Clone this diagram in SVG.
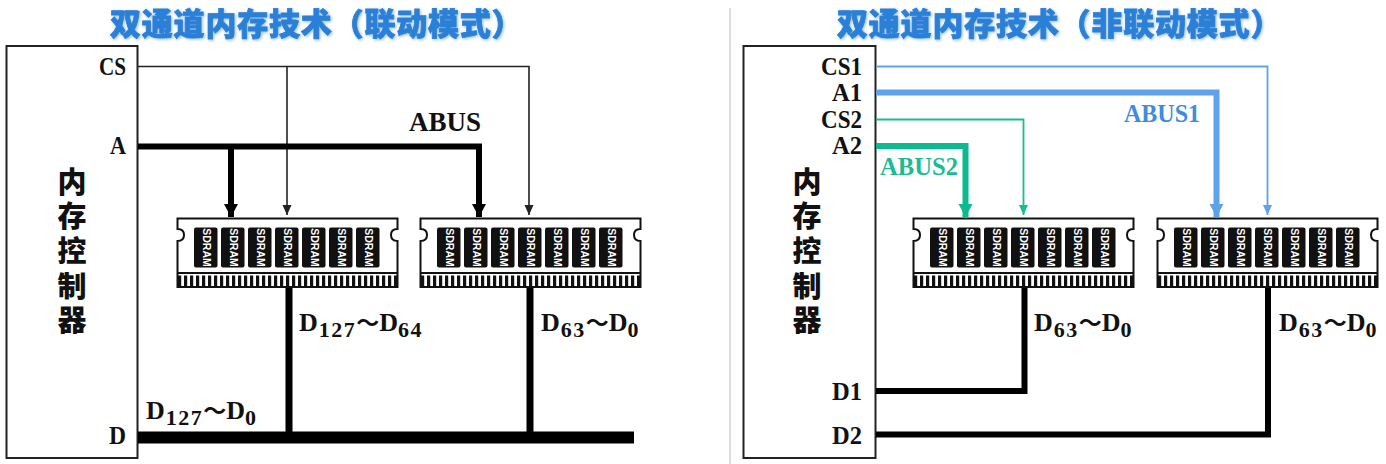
<svg xmlns="http://www.w3.org/2000/svg" xmlns:xlink="http://www.w3.org/1999/xlink" width="1386" height="464" viewBox="0 0 1386 464">
<style>
.title{font:900 31px "Noto Sans CJK SC",sans-serif;fill:#2a7fd6;stroke:#2a7fd6;stroke-width:.8;letter-spacing:.8px;filter:url(#glow)}
.lab{font:bold 26px "Liberation Serif",serif;fill:#111}
.cn{font:900 29px "Noto Sans CJK SC",sans-serif;fill:#111;text-anchor:middle}
.box{fill:#fff;stroke:#222;stroke-width:2}
.sub{font-size:22px;letter-spacing:1.5px}
.tl{font:bold 23px "Noto Sans CJK SC",sans-serif}
.chip{fill:#111}
.sd{font:bold 10.5px "Liberation Sans",sans-serif;fill:#fff;text-anchor:middle}
.w{fill:none;stroke-linejoin:miter}
.k1{stroke:#222;stroke-width:1.6}.k6{stroke:#000;stroke-width:6}.k7{stroke:#000;stroke-width:7}
.b1{stroke:#5ea3ea;stroke-width:1.8}.b6{stroke:#5ea3ea;stroke-width:6}
.g1{stroke:#1dba94;stroke-width:1.8}.g6{stroke:#0dba90;stroke-width:6}
.blue{fill:#3d8ce0}.green{fill:#1dbb95}
</style>
<defs>
<filter id="glow" x="-5%" y="-20%" width="110%" height="140%"><feDropShadow dx="1" dy="1" stdDeviation="1.5" flood-color="#8fc0ee"/></filter>
<marker id="ak" markerWidth="10" markerHeight="10" refX="10" refY="5" orient="auto" markerUnits="userSpaceOnUse"><path d="M0 .500L10 5L0 9.500Z" fill="#222"/></marker>
<marker id="akb" markerWidth="13" markerHeight="15" refX="13" refY="7" orient="auto" markerUnits="userSpaceOnUse"><path d="M0 0L13 7L0 14Z" fill="#000"/></marker>
<marker id="ab" markerWidth="10" markerHeight="10" refX="10" refY="5" orient="auto" markerUnits="userSpaceOnUse"><path d="M0 .500L10 5L0 9.500Z" fill="#5ea3ea"/></marker>
<marker id="abb" markerWidth="13" markerHeight="15" refX="13" refY="7" orient="auto" markerUnits="userSpaceOnUse"><path d="M0 0L13 7L0 14Z" fill="#5ea3ea"/></marker>
<marker id="ag" markerWidth="10" markerHeight="10" refX="10" refY="5" orient="auto" markerUnits="userSpaceOnUse"><path d="M0 .500L10 5L0 9.500Z" fill="#1dba94"/></marker>
<marker id="agb" markerWidth="13" markerHeight="15" refX="13" refY="7" orient="auto" markerUnits="userSpaceOnUse"><path d="M0 0L13 7L0 14Z" fill="#0dba90"/></marker>
<g id="chip"><rect x="0" y="0" width="23.5" height="40" rx="2" class="chip"/><text class="sd" transform="translate(8.500 20) rotate(90)">SDRAM</text></g>
<g id="dimm">
<path d="M0.500 0.500H220.500V11Q214 11 214 17Q214 23 220.500 23V69H0.500V23Q7 23 7 17Q7 11 0.500 11Z" fill="#fff" stroke="#111" stroke-width="2"/>
<path d="M0.500 55H220.500" stroke="#111" stroke-width="2"/>
<path d="M1 63H220" stroke="#111" stroke-width="11" stroke-dasharray="3.200 2.800"/>
<use xlink:href="#chip" href="#chip" x="17" y="9.500"/><use xlink:href="#chip" href="#chip" x="44" y="9.500"/><use xlink:href="#chip" href="#chip" x="71" y="9.500"/><use xlink:href="#chip" href="#chip" x="98" y="9.500"/><use xlink:href="#chip" href="#chip" x="125" y="9.500"/><use xlink:href="#chip" href="#chip" x="152" y="9.500"/><use xlink:href="#chip" href="#chip" x="179" y="9.500"/>
</g>
</defs>
<rect width="1386" height="464" fill="#fff"/>
<path d="M730 8V464" stroke="#ddd" stroke-width="2"/>
<text class="title" x="110" y="35">双通道内存技术（联动模式）</text>
<text class="title" x="837" y="35">双通道内存技术（非联动模式）</text>

<g id="controller-left">
<rect class="box" x="6.500" y="46" width="131" height="412"/>
<text class="cn"><tspan x="72" y="193">内</tspan><tspan x="72" y="227">存</tspan><tspan x="72" y="262">控</tspan><tspan x="72" y="297">制</tspan><tspan x="72" y="331">器</tspan></text>
<text class="lab" x="99" y="75" textLength="27" lengthAdjust="spacingAndGlyphs">CS</text><text class="lab" x="110" y="154" textLength="16" lengthAdjust="spacingAndGlyphs">A</text><text class="lab" x="109" y="444" textLength="17" lengthAdjust="spacingAndGlyphs">D</text>
</g>
<g id="controller-right">
<rect class="box" x="743.500" y="46" width="132" height="412"/>
<text class="cn"><tspan x="807" y="193">内</tspan><tspan x="807" y="227">存</tspan><tspan x="807" y="262">控</tspan><tspan x="807" y="297">制</tspan><tspan x="807" y="331">器</tspan></text>
<text class="lab" x="821" y="75" textLength="41" lengthAdjust="spacingAndGlyphs">CS1</text><text class="lab" x="832" y="101" textLength="30" lengthAdjust="spacingAndGlyphs">A1</text><text class="lab" x="821" y="128" textLength="41" lengthAdjust="spacingAndGlyphs">CS2</text><text class="lab" x="832" y="154" textLength="30" lengthAdjust="spacingAndGlyphs">A2</text><text class="lab" x="832" y="400" textLength="30" lengthAdjust="spacingAndGlyphs">D1</text><text class="lab" x="832" y="444" textLength="30" lengthAdjust="spacingAndGlyphs">D2</text>
</g>
<g id="dimm1"><use xlink:href="#dimm" href="#dimm" x="177" y="218"/></g>
<g id="dimm2"><use xlink:href="#dimm" href="#dimm" x="420" y="218"/></g>
<g id="dimm3"><use xlink:href="#dimm" href="#dimm" x="913" y="218"/></g>
<g id="dimm4"><use xlink:href="#dimm" href="#dimm" x="1157" y="218"/></g>

<g id="connectors" class="w">
<path class="k1" d="M138 66.500H529V215" marker-end="url(#ak)"/>
<path class="k1" d="M287 66.500V215" marker-end="url(#ak)"/>
<path class="k6" d="M138 146.500H479V217" marker-end="url(#akb)"/>
<path class="k6" d="M231 146.500V217" marker-end="url(#akb)"/>
<path d="M138 437.500H634" stroke="#000" stroke-width="12"/>
<path class="k7" d="M289 288V433M530 288V433"/>
<path class="b1" d="M876 66.500H1267.500V215" marker-end="url(#ab)"/>
<path class="b6" d="M876 92.500H1216.500V217" marker-end="url(#abb)"/>
<path class="g1" d="M876 119.500H1023.500V215" marker-end="url(#ag)"/>
<path class="g6" d="M876 146H965.500V217" marker-end="url(#agb)"/>
<path class="k6" d="M876 391H1024.500V288"/>
<path class="k6" d="M876 434.500H1268V288"/>
</g>

<g id="labels">
<text class="lab" x="409" y="131" style="font-size:27px">ABUS</text>
<text class="lab blue" x="1124" y="122" style="font-size:25px" textLength="76" lengthAdjust="spacingAndGlyphs">ABUS1</text>
<text class="lab green" x="880" y="175" style="font-size:25px" textLength="78" lengthAdjust="spacingAndGlyphs">ABUS2</text>
<text class="lab" x="146" y="419">D<tspan class="sub" dy="6" dx="1">127</tspan><tspan class="tl" dy="-6">～</tspan><tspan>D</tspan><tspan class="sub" dy="6">0</tspan></text>
<text class="lab" x="299" y="331">D<tspan class="sub" dy="6" dx="1">127</tspan><tspan class="tl" dy="-6">～</tspan><tspan>D</tspan><tspan class="sub" dy="6">64</tspan></text>
<text class="lab" x="541" y="331">D<tspan class="sub" dy="6" dx="1">63</tspan><tspan class="tl" dy="-6">～</tspan><tspan>D</tspan><tspan class="sub" dy="6">0</tspan></text>
<text class="lab" x="1034" y="331">D<tspan class="sub" dy="6" dx="1">63</tspan><tspan class="tl" dy="-6">～</tspan><tspan>D</tspan><tspan class="sub" dy="6">0</tspan></text>
<text class="lab" x="1279" y="331">D<tspan class="sub" dy="6" dx="1">63</tspan><tspan class="tl" dy="-6">～</tspan><tspan>D</tspan><tspan class="sub" dy="6">0</tspan></text>
</g>
</svg>
